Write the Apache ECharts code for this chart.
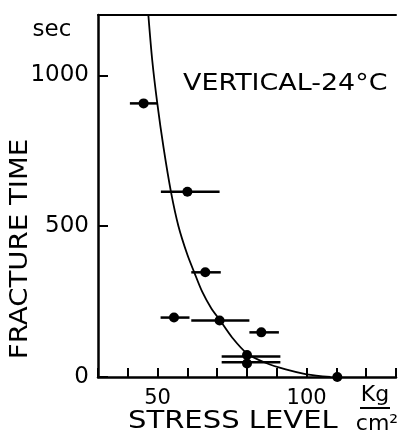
<!DOCTYPE html>
<html>
<head>
<meta charset="utf-8">
<script src="https://cdn.jsdelivr.net/npm/echarts@6/dist/echarts.min.js"></script>
<style>
  html, body { margin: 0; padding: 0; background: #fff; }
  #chart { width: 399px; height: 435px; }
</style>
</head>
<body>
<div id="chart"></div>
<script>
// measured points (stress in kg/cm2, fracture time in sec)
const stressMid = [45.3, 60, 66, 55.5, 70.8, 84.8, 80, 80, 110.3];
const stressLo = [40.7, 51.1, 61.3, 51, 61.3, 80.8, 71.5, 71.5, null];
const stressHi = [50, 70.8, 71.2, 60.7, 80.8, 90.7, 91.2, 91.2, null];
const barTime = [907, 614, 347, 197, 187, 148, 68, 49, 0];
const dotTime = [907, 614, 347, 197, 187, 148, 73, 45, 0];

// fitted curve drawn through the data
const curveStress = [46.9, 48.2, 49.9, 52, 54.5, 57, 60, 62.3, 65, 68, 71, 75, 80, 86, 93, 100, 108];
const curveTime = [1200, 1050, 907, 760, 613, 500, 405, 347, 282, 228, 187, 131, 78, 48, 25, 9, 0];

const xTicks = [50, 100];
const yTicks = [0, 500, 1000];

const font = 'DejaVu Sans';
const chart = echarts.init(document.getElementById('chart'));

const dots = stressMid.map((x, i) => [x, dotTime[i]]);
const bars = stressMid.map((x, i) => [stressLo[i], stressHi[i], barTime[i]]).filter(d => d[0] != null);
const curve = curveStress.map((x, i) => [x, curveTime[i]]);

chart.setOption({
  animation: false,
  grid: { left: 98, top: 15, width: 304, height: 362 },
  xAxis: [{
    type: 'value', min: 30, max: 130, interval: 10,
    axisLine: { lineStyle: { color: '#000', width: 2.5 } },
    axisTick: { inside: true, length: 9, lineStyle: { color: '#000', width: 2 } },
    axisLabel: {
      margin: 11, color: '#000', fontFamily: font, fontSize: 21,
      formatter: v => xTicks.includes(v) ? String(v) : ''
    },
    splitLine: { show: false }
  }, {
    type: 'value', position: 'top', min: 30, max: 130,
    axisLine: { show: true, lineStyle: { color: '#000', width: 2 } },
    axisTick: { show: false }, axisLabel: { show: false }, splitLine: { show: false }
  }],
  yAxis: {
    type: 'value', min: 0, max: 1200, interval: 500,
    axisLine: { show: true, lineStyle: { color: '#000', width: 2.5 } },
    axisTick: { show: true, inside: true, length: 10, lineStyle: { color: '#000', width: 2 } },
    axisLabel: {
      margin: 9, color: '#000', fontFamily: font, fontSize: 23,
      formatter: v => yTicks.includes(v) ? String(v) : ''
    },
    splitLine: { show: false }
  },
  series: [{
    type: 'line', data: curve, smooth: 0.3,
    showSymbol: false, clip: true,
    lineStyle: { color: '#000', width: 1.8 }
  }, {
    type: 'custom',
    data: bars,
    renderItem: (params, api) => {
      const a = api.coord([api.value(0), api.value(2)]);
      const b = api.coord([api.value(1), api.value(2)]);
      return {
        type: 'line',
        shape: { x1: a[0], y1: a[1], x2: b[0], y2: b[1] },
        style: { stroke: '#000', lineWidth: 2.5 }
      };
    }
  }, {
    type: 'scatter', data: dots, symbolSize: 10,
    itemStyle: { color: '#000', opacity: 1 }
  }],
  graphic: [
    { type: 'text', x: 52, y: 30, style: { text: 'sec', font: '23px "DejaVu Sans"', fill: '#000', textAlign: 'center', textVerticalAlign: 'middle' } },
    { type: 'text', x: 183, y: 84, scaleX: 1.17, style: { text: 'VERTICAL-24°C', font: '23px "DejaVu Sans"', fill: '#000', textAlign: 'left', textVerticalAlign: 'middle' } },
    { type: 'text', x: 21, y: 249, rotation: Math.PI / 2, scaleX: 1.15, style: { text: 'FRACTURE TIME', font: '24px "DejaVu Sans"', fill: '#000', textAlign: 'center', textVerticalAlign: 'middle' } },
    { type: 'text', x: 128, y: 422, scaleX: 1.21, style: { text: 'STRESS LEVEL', font: '24px "DejaVu Sans"', fill: '#000', textAlign: 'left', textVerticalAlign: 'middle' } },
    { type: 'text', x: 375, y: 395, style: { text: 'Kg', font: '22px "DejaVu Sans"', fill: '#000', textAlign: 'center', textVerticalAlign: 'middle' } },
    { type: 'line', shape: { x1: 360, y1: 408, x2: 390, y2: 408 }, style: { stroke: '#000', lineWidth: 2 } },
    { type: 'text', x: 377, y: 424, style: { text: 'cm²', font: '22px "DejaVu Sans"', fill: '#000', textAlign: 'center', textVerticalAlign: 'middle' } }
  ]
});
</script>
</body>
</html>
